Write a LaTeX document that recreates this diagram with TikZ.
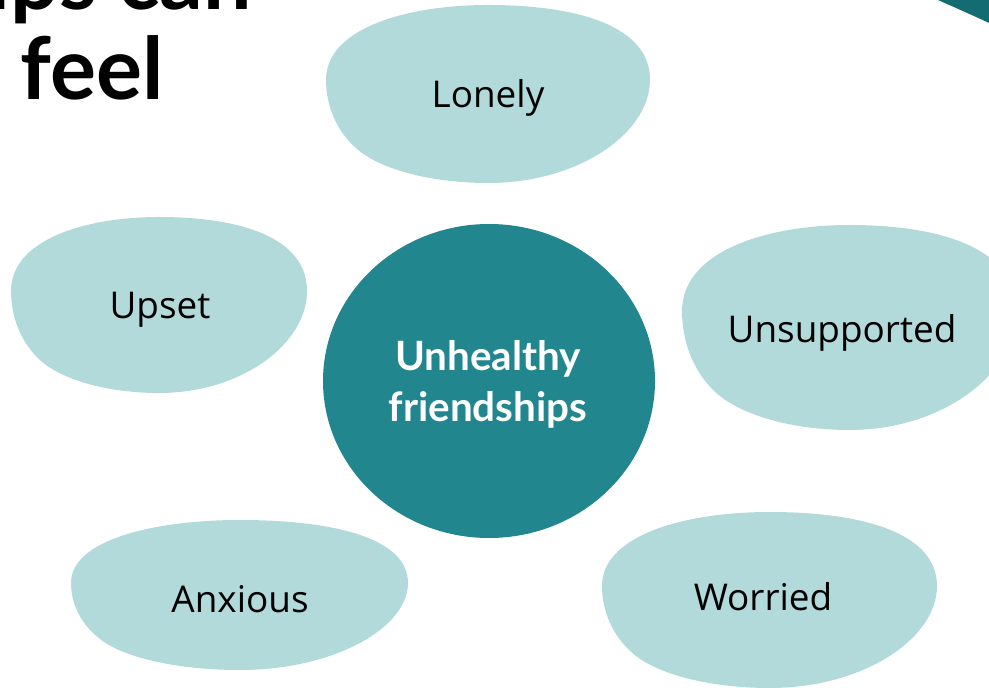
\documentclass[tikz,border=0pt]{standalone}
\usepackage{fontspec}
\setmainfont{Open Sans}
\newfontfamily\titlefont{Lato}
\definecolor{blobc}{HTML}{B3DADA}
\definecolor{centerc}{HTML}{21868E}
\definecolor{darkc}{HTML}{136C71}
\tikzset{
  blobfill/.style={fill=blobc, draw=none},
  bloblabel/.style={font=\fontsize{21}{25}\selectfont, text=black, inner sep=0pt},
  centerlabel/.style={font=\titlefont\bfseries\fontsize{23}{29}\selectfont, text=white, align=center, inner sep=0pt},
  titletext/.style={font=\titlefont\bfseries\fontsize{49}{53}\selectfont, text=black, inner sep=0pt}
}
\newcommand\myblob[4]{%
  \begin{scope}[shift={(#1,#2)}, xscale=#3, yscale=#4]
    \fill[blobfill] (0,0.42) .. controls (0,0.13) and (0.25,0) .. (0.5,0)
      .. controls (0.78,0) and (1,0.12) .. (1,0.42)
      .. controls (1,0.72) and (0.78,1) .. (0.5,1)
      .. controls (0.32,1) and (0.16,0.92) .. (0.09,0.8)
      .. controls (0.03,0.7) and (0,0.56) .. (0,0.42) -- cycle;
  \end{scope}}
\begin{document}
\begin{tikzpicture}[x=0.02cm, y=-0.02cm]
  \useasboundingbox (0,0) rectangle (989,688);
  \clip (0,0) rectangle (989,688);
  % title fragments
  \node[titletext, anchor=base east] (t1) at (252,10) {Unhealthy friendships can};
  \node[titletext, anchor=base east] (t2) at (164,100) {make you feel};
  % top-right decoration
  \fill[darkc] (938,0) .. controls (956,8) and (972,15) .. (989,23) -- (989,0) -- cycle;
  % blobs
  \myblob{326}{5}{324}{178}
  \myblob{11}{217}{296}{176}
  \myblob{682}{225}{335}{205}
  \myblob{71}{520}{337}{150}
  \myblob{602}{512}{335}{176}
  % center
  \fill[centerc] (489,381) ellipse [x radius=166, y radius=157];
  % labels
  \node[bloblabel] (lonely) at (488,98) {Lonely};
  \node[bloblabel] (upset) at (160,310) {Upset};
  \node[bloblabel] (unsupported) at (842,333) {Unsupported};
  \node[bloblabel] (anxious) at (240,599) {Anxious};
  \node[bloblabel] (worried) at (763,597) {Worried};
  \node[centerlabel] (center) at (488,384) {Unhealthy\\friendships};
\end{tikzpicture}
\end{document}
